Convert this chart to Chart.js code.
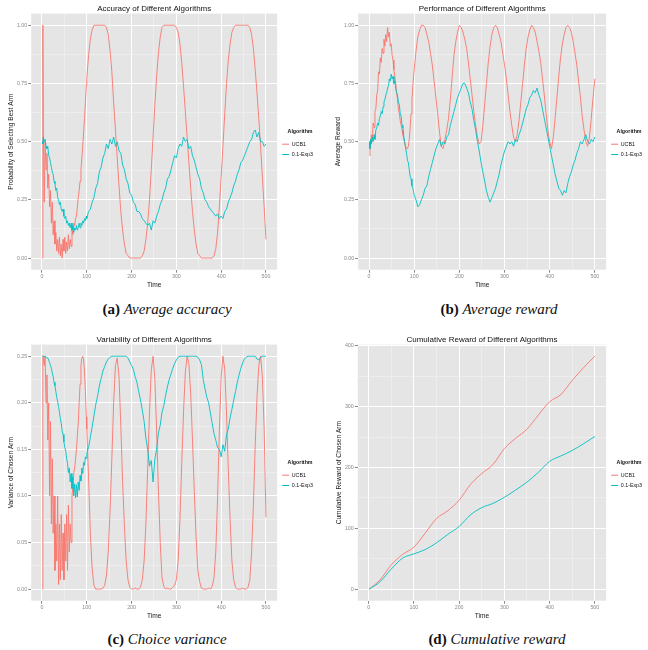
<!DOCTYPE html>
<html>
<head>
<meta charset="utf-8">
<script src="https://cdn.jsdelivr.net/npm/chart.js@4.4.1/dist/chart.umd.min.js"></script>
<style>
  html, body { margin: 0; padding: 0; background: #fff; width: 648px; height: 650px; overflow: hidden; }
  canvas { position: absolute; }
  .cap { position: absolute; width: 320px; text-align: center; font-family: "Liberation Serif", "Times New Roman", serif; font-size: 15px; line-height: 18px; color: #111; }
  .cap b { font-weight: bold; }
  .cap i { font-style: italic; }
</style>
</head>
<body>
<canvas id="chartA" width="324" height="292" style="left:0;top:0"></canvas>
<canvas id="chartB" width="329" height="292" style="left:324px;top:0"></canvas>
<canvas id="chartC" width="324" height="292" style="left:0;top:331px"></canvas>
<canvas id="chartD" width="329" height="292" style="left:324px;top:331px"></canvas>
<div class="cap" style="left:7px;top:300px"><b>(a)</b> <i>Average accuracy</i></div>
<div class="cap" style="left:339px;top:300px"><b>(b)</b> <i>Average reward</i></div>
<div class="cap" style="left:7px;top:630px"><b>(c)</b> <i>Choice variance</i></div>
<div class="cap" style="left:337px;top:630px"><b>(d)</b> <i>Cumulative reward</i></div>
<script>
// time steps sampled from the plots (dense at the start where the curves are noisy)
const time = [
  1, 2, 3, 5, 7, 9, 11, 13, 15, 17,
  19, 21, 23, 25, 27, 29, 31, 33, 35, 37,
  39, 41, 43, 45, 47, 49, 51, 53, 55, 57,
  59, 61, 63, 65, 67, 69, 71, 73, 75, 77,
  79, 81, 83, 85, 87, 89, 91, 93, 95, 97,
  99,
  100, 104, 108, 112, 116, 120, 124, 128, 132, 136,
  140, 144, 148, 152, 156, 160, 164, 168, 172, 176,
  180, 184, 188, 192, 196, 200, 204, 208, 212, 216,
  220, 224, 228, 232, 236, 240, 244, 248, 252, 256,
  260, 264, 268, 272, 276, 280, 284, 288, 292, 296,
  300, 304, 308, 312, 316, 320, 324, 328, 332, 336,
  340, 344, 348, 352, 356, 360, 364, 368, 372, 376,
  380, 384, 388, 392, 396, 400, 404, 408, 412, 416,
  420, 424, 428, 432, 436, 440, 444, 448, 452, 456,
  460, 464, 468, 472, 476, 480, 484, 488, 492, 496,
  500
];

// (a) probability of selecting best arm
const accUcb = [
  0, 1.0, 0.55, 0.24, 0.5, 0.38, 0.45, 0.3, 0.36, 0.22,
  0.29, 0.15, 0.24, 0.1, 0.16, 0.06, 0.11, 0.03, 0.08, 0.02,
  0.09, 0.01, 0.06, 0.0, 0.08, 0.03, 0.09, 0.02, 0.07, 0.03,
  0.1, 0.04, 0.08, 0.05, 0.12, 0.1, 0.15, 0.14, 0.17, 0.18,
  0.22, 0.26, 0.29, 0.33, 0.38, 0.43, 0.48, 0.54, 0.6, 0.67,
  0.74,
  0.77, 0.87, 0.94, 0.98, 1.0, 1.0, 1.0, 1.0, 1.0, 1.0,
  1.0, 0.99, 0.96, 0.89, 0.8, 0.67, 0.55, 0.43, 0.31, 0.2,
  0.12, 0.06, 0.02, 0.01, 0, 0, 0, 0, 0, 0,
  0, 0.01, 0.03, 0.08, 0.15, 0.25, 0.38, 0.52, 0.66, 0.78,
  0.88, 0.95, 0.99, 1.0, 1.0, 1.0, 1.0, 1.0, 1.0, 1.0,
  0.99, 0.97, 0.92, 0.84, 0.74, 0.63, 0.52, 0.41, 0.3, 0.2,
  0.12, 0.06, 0.02, 0.01, 0, 0, 0, 0, 0, 0,
  0, 0.01, 0.04, 0.11, 0.22, 0.35, 0.48, 0.62, 0.75, 0.85,
  0.92, 0.97, 0.99, 1.0, 1.0, 1.0, 1.0, 1.0, 1.0, 1.0,
  1.0, 0.99, 0.96, 0.9, 0.81, 0.71, 0.6, 0.48, 0.35, 0.22,
  0.08
];
const accExp = [
  0.5, 0.49, 0.52, 0.5, 0.51, 0.48, 0.47, 0.48, 0.44, 0.43,
  0.41, 0.39, 0.37, 0.36, 0.33, 0.32, 0.29, 0.3, 0.26, 0.25,
  0.23, 0.24, 0.21, 0.2, 0.21, 0.18, 0.17, 0.18, 0.15, 0.16,
  0.14, 0.15, 0.13, 0.15, 0.12, 0.14, 0.11, 0.13, 0.12, 0.14,
  0.12, 0.13, 0.15, 0.13, 0.15, 0.14, 0.16, 0.15, 0.17, 0.16,
  0.18,
  0.17, 0.2, 0.21, 0.24, 0.26, 0.3, 0.32, 0.37, 0.39, 0.43,
  0.45, 0.49, 0.47, 0.51, 0.49, 0.52, 0.48, 0.5, 0.46, 0.45,
  0.4, 0.38, 0.34, 0.32, 0.28, 0.27, 0.24, 0.23, 0.2, 0.2,
  0.19, 0.17, 0.16, 0.15, 0.14, 0.15, 0.12, 0.16, 0.15, 0.18,
  0.2, 0.23, 0.25, 0.28, 0.3, 0.34, 0.35, 0.38, 0.41, 0.44,
  0.43, 0.47, 0.49, 0.48, 0.52, 0.5, 0.51, 0.47, 0.48, 0.44,
  0.42, 0.39, 0.36, 0.34, 0.3, 0.28, 0.25, 0.24, 0.22, 0.21,
  0.2, 0.19, 0.18, 0.19, 0.17, 0.18, 0.17, 0.2, 0.21, 0.24,
  0.26, 0.28, 0.31, 0.33, 0.36, 0.38, 0.41, 0.42, 0.44, 0.46,
  0.48, 0.5, 0.51, 0.54, 0.55, 0.52, 0.54, 0.5, 0.5, 0.48,
  0.49
];

// (b) average reward
const rewUcb = [
  0.44, 0.49, 0.47, 0.53, 0.5, 0.58, 0.56, 0.63, 0.64, 0.7,
  0.72, 0.8, 0.79, 0.86, 0.84, 0.9, 0.88, 0.94, 0.91, 0.96,
  0.93, 0.99, 0.95, 0.97, 0.91, 0.92, 0.87, 0.85, 0.81, 0.78,
  0.75, 0.71, 0.68, 0.64, 0.62, 0.59, 0.57, 0.55, 0.53, 0.51,
  0.49, 0.48, 0.47, 0.47, 0.48, 0.51, 0.56, 0.62, 0.68, 0.74,
  0.79,
  0.81, 0.89, 0.95, 0.98, 1.0, 1.0, 0.99, 0.96, 0.93, 0.88,
  0.83, 0.76, 0.69, 0.62, 0.54, 0.48, 0.47, 0.51, 0.55, 0.6,
  0.68, 0.78, 0.87, 0.93, 0.97, 1.0, 0.99, 0.97, 0.94, 0.9,
  0.84, 0.77, 0.7, 0.63, 0.57, 0.52, 0.49, 0.5, 0.57, 0.66,
  0.75, 0.84, 0.91, 0.96, 0.99, 1.0, 0.99, 0.96, 0.93, 0.88,
  0.83, 0.77, 0.7, 0.63, 0.57, 0.52, 0.5, 0.53, 0.59, 0.67,
  0.75, 0.83, 0.9, 0.95, 0.98, 1.0, 0.99, 0.97, 0.93, 0.89,
  0.84, 0.77, 0.7, 0.62, 0.55, 0.5, 0.47, 0.52, 0.6, 0.69,
  0.78, 0.86, 0.92, 0.96, 0.99, 1.0, 0.99, 0.97, 0.93, 0.88,
  0.83, 0.76, 0.69, 0.61, 0.55, 0.5, 0.48, 0.52, 0.6, 0.69,
  0.77
];
const rewExp = [
  0.5, 0.47, 0.51, 0.49, 0.52, 0.5, 0.53, 0.51, 0.55, 0.56,
  0.58, 0.57, 0.6, 0.61, 0.63, 0.62, 0.65, 0.67, 0.68, 0.7,
  0.71, 0.73, 0.74, 0.77, 0.76, 0.79, 0.77, 0.78, 0.75, 0.76,
  0.73, 0.71, 0.7, 0.67, 0.66, 0.62, 0.61, 0.57, 0.56, 0.52,
  0.5, 0.47, 0.45, 0.42, 0.41, 0.38, 0.35, 0.34, 0.31, 0.3,
  0.28,
  0.27, 0.25, 0.22, 0.23, 0.25, 0.27, 0.3, 0.31, 0.35, 0.38,
  0.41, 0.44, 0.47, 0.49, 0.51, 0.48, 0.5, 0.49, 0.52, 0.53,
  0.57, 0.6, 0.63, 0.66, 0.69, 0.71, 0.73, 0.75, 0.75, 0.73,
  0.71, 0.67, 0.64, 0.59, 0.55, 0.5, 0.46, 0.41, 0.37, 0.33,
  0.29, 0.26, 0.24, 0.26, 0.28, 0.3, 0.33, 0.36, 0.4, 0.43,
  0.46, 0.48, 0.5, 0.49, 0.5, 0.48, 0.51, 0.5, 0.53, 0.55,
  0.58, 0.61, 0.64, 0.66, 0.69, 0.7, 0.72, 0.71, 0.73, 0.7,
  0.68, 0.64, 0.6, 0.56, 0.52, 0.48, 0.44, 0.4, 0.36, 0.33,
  0.3, 0.29, 0.27, 0.29, 0.28, 0.32, 0.35, 0.37, 0.4, 0.42,
  0.45, 0.47, 0.5, 0.49, 0.51, 0.53, 0.5, 0.49, 0.51, 0.5,
  0.52
];

// (c) variance of chosen arm
const varUcb = [
  0, 0.25, 0.25, 0.24, 0.25, 0.2, 0.23, 0.16, 0.2, 0.1,
  0.18, 0.07, 0.14, 0.06, 0.1, 0.02, 0.07, 0.03, 0.1, 0.005,
  0.07, 0.01, 0.08, 0.02, 0.06, 0.01, 0.07, 0.03, 0.08, 0.02,
  0.09, 0.04, 0.07, 0.05, 0.1, 0.11, 0.125, 0.13, 0.14, 0.15,
  0.165, 0.178, 0.2, 0.22, 0.24, 0.248, 0.25, 0.246, 0.232, 0.212,
  0.185,
  0.172, 0.12, 0.06, 0.022, 0.004, 0, 0, 0, 0, 0.001,
  0.004, 0.015, 0.04, 0.085, 0.14, 0.2, 0.24, 0.248, 0.228, 0.175,
  0.115, 0.068, 0.03, 0.01, 0.002, 0, 0, 0.001, 0, 0,
  0.002, 0.01, 0.03, 0.07, 0.13, 0.19, 0.235, 0.25, 0.225, 0.17,
  0.105, 0.05, 0.012, 0.003, 0, 0.001, 0, 0, 0.002, 0.004,
  0.01, 0.03, 0.075, 0.135, 0.19, 0.233, 0.25, 0.242, 0.21, 0.16,
  0.105, 0.056, 0.02, 0.008, 0.001, 0, 0, 0, 0.001, 0,
  0.003, 0.012, 0.04, 0.098, 0.17, 0.228, 0.25, 0.236, 0.188, 0.128,
  0.074, 0.03, 0.01, 0.002, 0, 0, 0, 0.001, 0, 0,
  0.002, 0.01, 0.04, 0.09, 0.154, 0.206, 0.24, 0.25, 0.228, 0.172,
  0.077
];
const varExp = [
  0.25, 0.25, 0.25, 0.25, 0.25, 0.249, 0.249, 0.248, 0.246, 0.243,
  0.24, 0.237, 0.232, 0.228, 0.222, 0.218, 0.212, 0.206, 0.201, 0.196,
  0.19, 0.183, 0.178, 0.17, 0.166, 0.158, 0.152, 0.148, 0.14, 0.135,
  0.125, 0.13, 0.115, 0.124, 0.108, 0.12, 0.1, 0.113, 0.098, 0.112,
  0.099, 0.115, 0.106, 0.122, 0.116, 0.13, 0.124, 0.136, 0.133, 0.142,
  0.14,
  0.146, 0.152, 0.163, 0.174, 0.186, 0.198, 0.207, 0.218, 0.226, 0.234,
  0.239, 0.244, 0.247, 0.249, 0.25, 0.25, 0.25, 0.25, 0.25, 0.25,
  0.25, 0.25, 0.25, 0.248, 0.244, 0.24, 0.236, 0.228, 0.222, 0.212,
  0.203, 0.192, 0.18, 0.162, 0.15, 0.132, 0.138, 0.115, 0.14, 0.15,
  0.168, 0.176, 0.19, 0.197, 0.208, 0.217, 0.225, 0.231, 0.237, 0.242,
  0.246, 0.249, 0.25, 0.25, 0.25, 0.25, 0.25, 0.25, 0.25, 0.25,
  0.25, 0.25, 0.249, 0.246, 0.241, 0.225, 0.215, 0.206, 0.2, 0.189,
  0.178, 0.167, 0.16, 0.152, 0.15, 0.142, 0.155, 0.148, 0.166, 0.172,
  0.184, 0.193, 0.203, 0.212, 0.222, 0.23, 0.237, 0.243, 0.247, 0.249,
  0.25, 0.25, 0.25, 0.25, 0.25, 0.247, 0.246, 0.249, 0.25, 0.25,
  0.25
];

// (d) cumulative reward, smooth so sampled coarser
const timeCum = [1, 25, 50, 75, 100, 125, 150, 175, 200, 225, 250, 275, 300, 325, 350, 375, 400, 425, 450, 475, 500];
const cumUcb = [0, 15, 40, 57, 69, 92, 116, 129, 146, 172, 190, 205, 231, 248, 263, 286, 308, 320, 343, 364, 383];
const cumExp = [0, 12, 33, 51, 58, 65, 76, 90, 103, 122, 134, 141, 151, 163, 176, 192, 210, 219, 228, 239, 251];

// axis ticks (major labelled, minor only grid)
const xTicks = [0, 100, 200, 300, 400, 500];
const xMinor = [50, 150, 250, 350, 450];
const probTicks = [0, 0.25, 0.5, 0.75, 1];
const probMinor = [0.125, 0.375, 0.625, 0.875];
const varTicks = [0, 0.05, 0.1, 0.15, 0.2, 0.25];
const varMinor = [0.025, 0.075, 0.125, 0.175, 0.225];
const cumTicks = [0, 100, 200, 300, 400];
const cumMinor = [50, 150, 250, 350];

const FONT = "'Liberation Sans', Arial, sans-serif";
const RED = '#F8766D';
const TEAL = '#00BFC4';

// grey ggplot panel behind the grid
const panelBg = {
  id: 'panelBg',
  beforeDraw(chart) {
    const { ctx, chartArea: a } = chart;
    ctx.save();
    ctx.fillStyle = '#E5E5E5';
    ctx.fillRect(a.left, a.top, a.right - a.left, a.bottom - a.top);
    ctx.restore();
  }
};

function isMajor(c, major) {
  return c.tick && major.includes(c.tick.value);
}

function makeAxis(min, max, major, minor, fmt, title) {
  return {
    type: 'linear',
    min: min,
    max: max,
    afterBuildTicks: scale => {
      scale.ticks = major.concat(minor).sort((p, q) => p - q).map(v => ({ value: v }));
    },
    ticks: {
      autoSkip: false,
      maxRotation: 0,
      padding: 1,
      color: '#8A8A8A',
      font: { family: FONT, size: 5.3 },
      callback: v => major.includes(v) ? fmt(v) : ''
    },
    grid: {
      color: c => isMajor(c, major) ? '#FFFFFF' : '#F2F2F2',
      lineWidth: c => isMajor(c, major) ? 1 : 0.6,
      tickColor: c => isMajor(c, major) ? '#8A8A8A' : 'rgba(0,0,0,0)',
      tickLength: 3
    },
    border: { display: false },
    title: {
      display: true,
      text: title,
      color: '#1A1A1A',
      font: { family: FONT, size: 6.6 },
      padding: { top: 0, bottom: 1 }
    }
  };
}

function makeChart(id, o) {
  new Chart(document.getElementById(id), {
    type: 'line',
    data: {
      datasets: [
        { label: 'UCB1', data: o.xs.map((t, i) => ({ x: t, y: o.ucb[i] })), borderColor: RED, backgroundColor: RED, order: 1 },
        { label: '0.1-Exp3', data: o.xs.map((t, i) => ({ x: t, y: o.exp[i] })), borderColor: TEAL, backgroundColor: TEAL, order: 0 }
      ]
    },
    options: {
      responsive: false,
      animation: false,
      elements: {
        point: { radius: 0 },
        line: { borderWidth: 0.9, tension: o.smooth ? 0.4 : 0, cubicInterpolationMode: o.smooth ? 'monotone' : 'default' }
      },
      layout: { padding: { left: o.padLeft, right: 1, top: 0, bottom: 2 } },
      plugins: {
        title: {
          display: true,
          fullSize: false,
          text: o.title,
          color: '#111',
          font: { family: FONT, size: 8, weight: 'normal' },
          padding: { top: 4, bottom: 0 }
        },
        legend: {
          position: 'right',
          align: 'center',
          fullSize: false,
          title: {
            display: true,
            text: 'Algorithm',
            position: 'center',
            color: '#111',
            font: { family: FONT, size: 5.3, weight: 'bold' },
            padding: { top: 8, bottom: 1 }
          },
          labels: {
            usePointStyle: true,
            pointStyle: 'line',
            pointStyleWidth: 7,
            boxHeight: 5,
            padding: 5,
            color: '#111',
            font: { family: FONT, size: 5.3 },
            sort: (p, q) => p.datasetIndex - q.datasetIndex
          }
        },
        tooltip: { enabled: false }
      },
      scales: {
        x: makeAxis(-24, 525, xTicks, xMinor, v => String(v), 'Time'),
        y: makeAxis(o.yMin, o.yMax, o.yMajor, o.yMinor, o.fmt, o.yTitle)
      }
    },
    plugins: [panelBg]
  });
}

makeChart('chartA', {
  title: 'Accuracy of Different Algorithms', yTitle: 'Probability of Selecting Best Arm',
  xs: time, ucb: accUcb, exp: accExp,
  yMin: -0.05, yMax: 1.05, yMajor: probTicks, yMinor: probMinor, fmt: v => v.toFixed(2), padLeft: 7
});
makeChart('chartB', {
  title: 'Performance of Different Algorithms', yTitle: 'Average Reward',
  xs: time, ucb: rewUcb, exp: rewExp,
  yMin: -0.05, yMax: 1.05, yMajor: probTicks, yMinor: probMinor, fmt: v => v.toFixed(2), padLeft: 10
});
makeChart('chartC', {
  title: 'Variability of Different Algorithms', yTitle: 'Variance of Chosen Arm',
  xs: time, ucb: varUcb, exp: varExp,
  yMin: -0.0125, yMax: 0.2625, yMajor: varTicks, yMinor: varMinor, fmt: v => v.toFixed(2), padLeft: 7
});
makeChart('chartD', {
  title: 'Cumulative Reward of Different Algorithms', yTitle: 'Cumulative Reward of Chosen Arm',
  xs: timeCum, ucb: cumUcb, exp: cumExp, smooth: true,
  yMin: -19, yMax: 402, yMajor: cumTicks, yMinor: cumMinor, fmt: v => String(v), padLeft: 11
});
</script>
</body>
</html>
